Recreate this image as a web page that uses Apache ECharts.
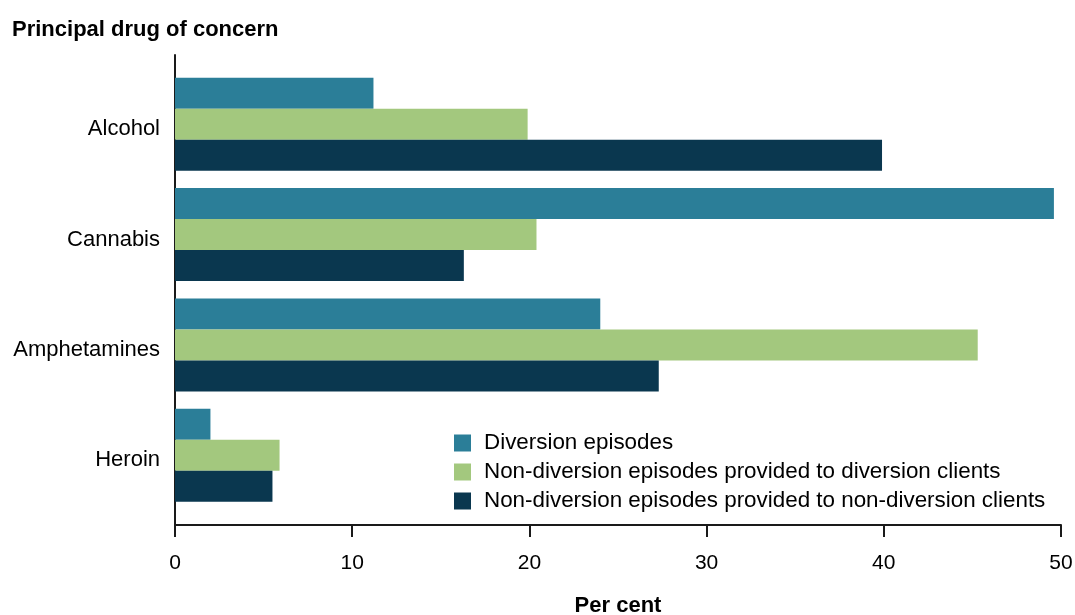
<!DOCTYPE html>
<html>
<head>
<meta charset="utf-8">
<script src="https://cdn.jsdelivr.net/npm/echarts@6/dist/echarts.min.js"></script>
<style>
  html, body { margin: 0; padding: 0; background: #fff; }
  #chart { width: 1075px; height: 615px; }
</style>
</head>
<body>
<div id="chart"></div>
<script>
// data
const drugs = ['Alcohol', 'Cannabis', 'Amphetamines', 'Heroin'];
const seriesNames = [
  'Diversion episodes',
  'Non-diversion episodes provided to diversion clients',
  'Non-diversion episodes provided to non-diversion clients'
];
const diversion = [11.2, 49.6, 24.0, 2.0];
const nonDivToDiv = [19.9, 20.4, 45.3, 5.9];
const nonDivToNonDiv = [39.9, 16.3, 27.3, 5.5];
const xTicks = [0, 50, 10]; // min, max, interval

const colors = ['#2b7e98', '#a3c87e', '#0a374f'];
const font = 'Arial, "Liberation Sans", sans-serif';

const chart = echarts.init(document.getElementById('chart'), null, { renderer: 'canvas' });

function barSeries(name, data, color) {
  return {
    name: name,
    type: 'bar',
    xAxisIndex: 1,
    yAxisIndex: 1,
    data: data,
    barWidth: 31,
    barGap: '0%',
    itemStyle: { color: color },
    emphasis: { disabled: true }
  };
}

chart.setOption({
  animation: false,
  color: colors,
  textStyle: { fontFamily: font },
  title: {
    text: 'Principal drug of concern',
    left: 7,
    top: 14,
    textStyle: { fontSize: 22, fontWeight: 'bold', color: '#000', fontFamily: font }
  },
  legend: {
    orient: 'vertical',
    left: 449,
    top: 427,
    icon: 'rect',
    itemWidth: 17,
    itemHeight: 17,
    itemGap: 7,
    selectedMode: false,
    data: seriesNames,
    textStyle: { fontSize: 22.4, color: '#000', padding: [0, 0, 0, 8], fontFamily: font }
  },
  grid: [
    // axes frame
    { left: 175, right: 14, top: 55, bottom: 90, outerBoundsMode: 'none' },
    // bars
    { left: 175, right: 14, top: 69, bottom: 104.5, outerBoundsMode: 'none' },
    // category labels (sit a little below the bar group centres)
    { left: 175, right: 14, top: 74, bottom: 99.5, outerBoundsMode: 'none' }
  ],
  xAxis: [
    {
      gridIndex: 0,
      type: 'value',
      min: xTicks[0],
      max: xTicks[1],
      interval: xTicks[2],
      name: 'Per cent',
      nameLocation: 'middle',
      nameGap: 70,
      nameTextStyle: { fontSize: 22, fontWeight: 'bold', color: '#000', fontFamily: font },
      axisLine: { show: true, lineStyle: { color: '#1a1a1a', width: 2 } },
      axisTick: { show: true, length: 12, lineStyle: { color: '#1a1a1a', width: 2 } },
      axisLabel: { fontSize: 21, color: '#000', margin: 28, fontFamily: font },
      splitLine: { show: false }
    },
    { gridIndex: 1, type: 'value', min: xTicks[0], max: xTicks[1], show: false },
    { gridIndex: 2, type: 'value', min: xTicks[0], max: xTicks[1], show: false }
  ],
  yAxis: [
    {
      gridIndex: 0,
      type: 'value',
      min: 0,
      max: 1,
      axisLine: { show: true, lineStyle: { color: '#1a1a1a', width: 2 } },
      axisTick: { show: false },
      axisLabel: { show: false },
      splitLine: { show: false }
    },
    {
      gridIndex: 1,
      type: 'category',
      inverse: true,
      data: drugs,
      show: false
    },
    {
      gridIndex: 2,
      type: 'category',
      inverse: true,
      data: drugs,
      axisLine: { show: false },
      axisTick: { show: false },
      axisLabel: { fontSize: 22, color: '#000', margin: 15, fontFamily: font }
    }
  ],
  series: [
    barSeries(seriesNames[0], diversion, colors[0]),
    barSeries(seriesNames[1], nonDivToDiv, colors[1]),
    barSeries(seriesNames[2], nonDivToNonDiv, colors[2])
  ]
});
</script>
</body>
</html>
